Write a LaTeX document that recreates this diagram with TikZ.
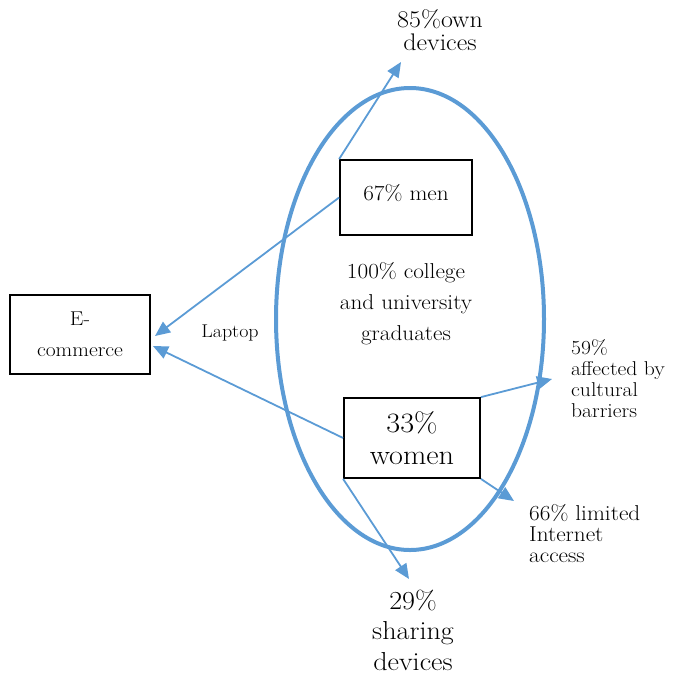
\documentclass[tikz,border=0pt]{standalone}
\usepackage{fontspec}
\setmainfont{Latin Modern Roman}[FakeStretch=1.08]
\usetikzlibrary{arrows.meta}
\definecolor{ablue}{RGB}{91,155,213}
\begin{document}
\begin{tikzpicture}[x=1pt,y=-1pt,
  boxed/.style={draw=black,line width=1.8pt,inner sep=0pt,align=center},
  txt/.style={inner sep=0pt,align=center},
  arr/.style={draw=ablue,line width=1.8pt,-{Triangle[length=15pt,width=13pt]}}]
\useasboundingbox (0,0) rectangle (676,675);
% ellipse
\draw[ablue,line width=4pt] (410,319) ellipse [x radius=134,y radius=231];
% boxes
\node[boxed,minimum width=132pt,minimum height=75pt,font=\fontsize{21.5}{31}\selectfont] (men) at (406,197.5) {\raisebox{10pt}{67\% men}};
\node[boxed,minimum width=136pt,minimum height=80pt,font=\fontsize{28}{32}\selectfont] (women) at (412,438) {33\%\\women};
\node[boxed,minimum width=140pt,minimum height=79pt,font=\fontsize{20}{31}\selectfont] (ecom) at (80,334.5) {E-\\commerce};
% texts
\node[txt,font=\fontsize{21.5}{31}\selectfont] (grad) at (406,304) {100\% college\\and university\\graduates};
\node[txt,font=\fontsize{18.5}{22}\selectfont] (lap) at (230,333) {Laptop};
\node[txt,font=\fontsize{24}{23}\selectfont] (own) at (440,30) {85\%own\\devices};
\node[txt,anchor=west,align=left,font=\fontsize{20}{21}\selectfont] (cult) at (571,378.5) {59\%\\affected by\\cultural\\barriers};
\node[txt,anchor=west,align=left,font=\fontsize{21.5}{21}\selectfont] (lim) at (529,534) {66\% limited\\Internet\\access};
\node[txt,font=\fontsize{26}{30.5}\selectfont] (share) at (413,630) {29\%\\sharing\\devices};
% arrow end points
\coordinate (tOwn) at (401,62);
\coordinate (tE1) at (155,336);
\coordinate (tE2) at (153,346);
\coordinate (tCult) at (552,379);
\coordinate (tLim) at (514,501);
\coordinate (tShare) at (409,579);
% arrows
\draw[arr] (men.north west) -- (tOwn);
\draw[arr] (men.west) -- (tE1);
\draw[arr] (women.west) -- (tE2);
\draw[arr] (women.north east) -- (tCult);
\draw[arr] (women.south east) -- (tLim);
\draw[arr] (women.south west) -- (tShare);
\end{tikzpicture}
\end{document}
